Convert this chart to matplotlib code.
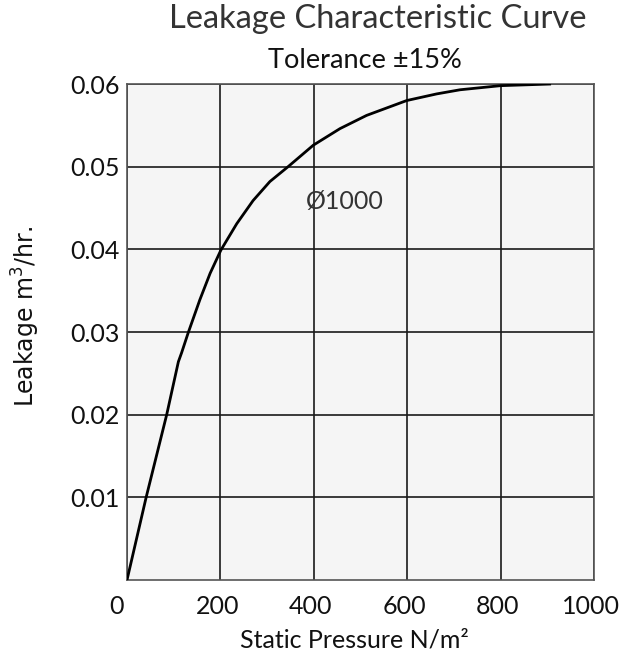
import matplotlib
matplotlib.use("Agg")
import matplotlib.pyplot as plt
from matplotlib.transforms import ScaledTranslation

# Data
pressure = [0, 41, 85, 110, 117, 131, 156, 178, 201, 235, 270, 306, 345, 399,
            456, 513, 599, 663, 713, 800, 908]
leakage = [0.0, 0.0100, 0.0200, 0.0264, 0.0275, 0.0299, 0.0339, 0.0371, 0.0399,
           0.0431, 0.0459, 0.0482, 0.0500, 0.0526, 0.0546, 0.0562, 0.0580,
           0.0588, 0.0593, 0.0598, 0.0600]
x_ticks = [0, 200, 400, 600, 800, 1000]
y_ticks = [0.01, 0.02, 0.03, 0.04, 0.05, 0.06]
y_tick_labels = ["0.01", "0.02", "0.03", "0.04", "0.05", "0.06"]
curve_label = "Ø1000"
curve_label_pos = (383, 0.0449)
title = "Leakage Characteristic Curve"
subtitle = "Tolerance ±15%"
x_label = "Static Pressure N/m²"
y_label = r"Leakage m$^{3}$/hr."

plt.rcParams['font.family'] = ['Lato', 'DejaVu Sans']
plt.rcParams['mathtext.fontset'] = 'dejavusans'

W, H = 634, 655
fig = plt.figure(figsize=(W / 100, H / 100), dpi=100)
ax = fig.add_axes([127 / W, 1 - 580 / H, (594 - 127) / W, (580 - 84) / H])
ax.set_facecolor('#f5f5f5')

ax.plot(pressure, leakage, color='black', lw=2.0, solid_capstyle='butt',
        solid_joinstyle='round', zorder=3)

ax.set_xlim(0, 1000)
ax.set_ylim(0, 0.06)
ax.set_xticks(x_ticks)
ax.set_xticklabels([str(v) for v in x_ticks])
ax.set_yticks(y_ticks)
ax.set_yticklabels(y_tick_labels)
ax.tick_params(axis='both', length=0, labelsize=18, colors='#111111')
ax.tick_params(axis='x', pad=10.8)
ax.tick_params(axis='y', pad=5.5)
for i, lbl in enumerate(ax.get_xticklabels()):
    dx = -10 if i == 0 else -3
    lbl.set_transform(lbl.get_transform() +
                      ScaledTranslation(dx / 100, 0, fig.dpi_scale_trans))
ax.grid(True, color='#1a1a1a', lw=1.2)
ax.set_axisbelow(True)
for s in ax.spines.values():
    s.set_color('#555555')
    s.set_linewidth(1.2)

ax.text(curve_label_pos[0], curve_label_pos[1], curve_label, fontsize=18,
        color='#333333', va='baseline', ha='left', zorder=4)

fig.text(378 / W, 1 - 28 / H, title, fontsize=23.5, color='#333333',
         ha='center', va='baseline')
fig.text(365 / W, 1 - 68 / H, subtitle, fontsize=19.5, color='#111111',
         ha='center', va='baseline')
fig.text(240 / W, 1 - 647 / H, x_label, fontsize=18, color='#111111',
         ha='left', va='baseline')
fig.text(26 / W, 1 - 316 / H, y_label, fontsize=17, color='#111111',
         ha='center', va='center', rotation=90, family=['DejaVu Sans'])

fig.savefig('out.png', dpi=100)
